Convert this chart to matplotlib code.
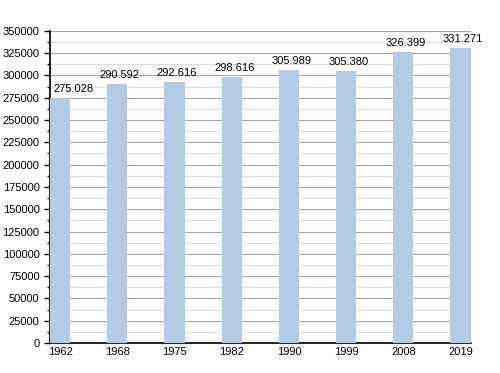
import matplotlib.pyplot as plt
from matplotlib.ticker import MultipleLocator

years = ['1962', '1968', '1975', '1982', '1990', '1999', '2008', '2019']
population = [275028, 290592, 292616, 298616, 305989, 305380, 326399, 331271]

plt.rcParams['font.family'] = ['Liberation Sans', 'DejaVu Sans']

fig = plt.figure(figsize=(5, 3.73), dpi=100)
ax = fig.add_axes([0.1, 0.0804, 0.8414, 0.837])

x = range(len(years))
ax.bar(x, population, width=0.353, color='#b3cbe5', zorder=3)

for xi, v in zip(x, population):
    label = f'{v:,}'.replace(',', '.')
    if xi == 0:
        # first label is kept inside the plot area
        ax.text(-0.11, v + 4500, label, ha='left', va='bottom', fontsize=8, zorder=4)
    else:
        ax.text(xi + 0.045, v + 4500, label, ha='center', va='bottom', fontsize=8, zorder=4)

ax.set_xlim(-0.177, 7.177)
ax.set_ylim(0, 350000)
ax.set_xticks(list(x))
ax.set_xticklabels(years)
ax.yaxis.set_major_locator(MultipleLocator(25000))
ax.yaxis.set_minor_locator(MultipleLocator(12500))
ax.grid(which='major', axis='y', color='#a8a8a8', linewidth=0.8, zorder=0)
ax.grid(which='minor', axis='y', color='#dcdcdc', linewidth=0.8, zorder=0)

for side in ['top', 'right']:
    ax.spines[side].set_visible(False)
ax.spines['left'].set_linewidth(1.2)
ax.spines['bottom'].set_linewidth(1.2)

ax.tick_params(axis='y', which='major', labelsize=8, length=4, width=1)
ax.tick_params(axis='y', which='minor', length=2, width=1)
ax.tick_params(axis='x', labelsize=8, length=0, pad=3)

fig.savefig('out.png')
